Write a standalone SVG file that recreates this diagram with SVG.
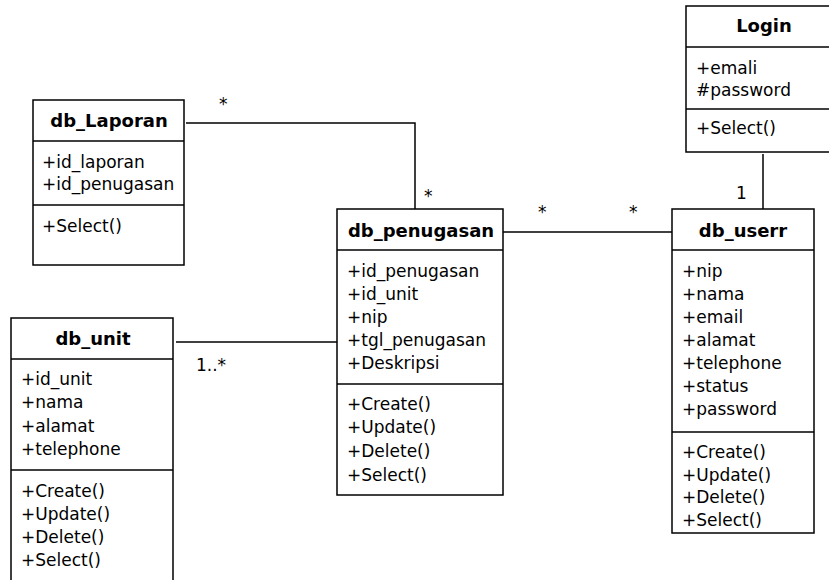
<svg xmlns="http://www.w3.org/2000/svg" width="829" height="580" viewBox="0 0 829 580">
<style>
.box{fill:#fff;stroke:#000;stroke-width:1.5}
.div{stroke:#000;stroke-width:1.5}
.t{font-family:"DejaVu Sans",Verdana,sans-serif;font-size:18px;font-weight:bold;text-anchor:middle;fill:#000}
.a{font-family:"DejaVu Sans",Verdana,sans-serif;font-size:17px;fill:#000}
.m{font-family:"DejaVu Sans",Verdana,sans-serif;font-size:17px;fill:#000}
.c{fill:none;stroke:#000;stroke-width:1.5}
</style>
<rect width="829" height="580" fill="#fff"/>
<g id="connectors">
<polyline class="c" points="186,123 415,123 415,209"/>
<line class="c" x1="503" y1="232" x2="672" y2="232"/>
<line class="c" x1="763" y1="154" x2="763" y2="209"/>
<line class="c" x1="176" y1="342" x2="337" y2="342"/>
<text class="m" x="219" y="110">*</text>
<text class="m" x="424" y="202">*</text>
<text class="m" x="538" y="218">*</text>
<text class="m" x="629" y="218">*</text>
<text class="m" x="736" y="199">1</text>
<text class="m" x="196" y="371">1..*</text>
</g>
<g id="db_Laporan">
<rect class="box" x="33" y="100" width="151" height="165"/>
<line class="div" x1="33" y1="141" x2="184" y2="141"/>
<line class="div" x1="33" y1="205" x2="184" y2="205"/>
<text class="t" x="109" y="127">db_Laporan</text>
<text class="a" x="42" y="168">+id_laporan</text>
<text class="a" x="42" y="190">+id_penugasan</text>
<text class="a" x="42" y="232">+Select()</text>
</g>
<g id="db_penugasan">
<rect class="box" x="337" y="209" width="166" height="286"/>
<line class="div" x1="337" y1="250" x2="503" y2="250"/>
<line class="div" x1="337" y1="384" x2="503" y2="384"/>
<text class="t" x="421" y="237">db_penugasan</text>
<text class="a" x="347" y="277">+id_penugasan</text>
<text class="a" x="347" y="300">+id_unit</text>
<text class="a" x="347" y="323">+nip</text>
<text class="a" x="347" y="346">+tgl_penugasan</text>
<text class="a" x="347" y="369">+Deskripsi</text>
<text class="a" x="347" y="410">+Create()</text>
<text class="a" x="347" y="433">+Update()</text>
<text class="a" x="347" y="457">+Delete()</text>
<text class="a" x="347" y="481">+Select()</text>
</g>
<g id="Login">
<rect class="box" x="686" y="6" width="160" height="146"/>
<line class="div" x1="686" y1="47" x2="829" y2="47"/>
<line class="div" x1="686" y1="109" x2="829" y2="109"/>
<text class="t" x="764" y="32">Login</text>
<text class="a" x="696" y="74">+emali</text>
<text class="a" x="696" y="96">#password</text>
<text class="a" x="696" y="134">+Select()</text>
</g>
<g id="db_userr">
<rect class="box" x="672" y="209" width="142" height="324"/>
<line class="div" x1="672" y1="250" x2="814" y2="250"/>
<line class="div" x1="672" y1="432" x2="814" y2="432"/>
<text class="t" x="743" y="237">db_userr</text>
<text class="a" x="682" y="277">+nip</text>
<text class="a" x="682" y="300">+nama</text>
<text class="a" x="682" y="323">+email</text>
<text class="a" x="682" y="346">+alamat</text>
<text class="a" x="682" y="369">+telephone</text>
<text class="a" x="682" y="392">+status</text>
<text class="a" x="682" y="415">+password</text>
<text class="a" x="682" y="458">+Create()</text>
<text class="a" x="682" y="481">+Update()</text>
<text class="a" x="682" y="503">+Delete()</text>
<text class="a" x="682" y="526">+Select()</text>
</g>
<g id="db_unit">
<rect class="box" x="11" y="318" width="162" height="290"/>
<line class="div" x1="11" y1="359" x2="173" y2="359"/>
<line class="div" x1="11" y1="470" x2="173" y2="470"/>
<text class="t" x="93" y="345">db_unit</text>
<text class="a" x="21" y="385">+id_unit</text>
<text class="a" x="21" y="408">+nama</text>
<text class="a" x="21" y="432">+alamat</text>
<text class="a" x="21" y="455">+telephone</text>
<text class="a" x="21" y="497">+Create()</text>
<text class="a" x="21" y="520">+Update()</text>
<text class="a" x="21" y="543">+Delete()</text>
<text class="a" x="21" y="566">+Select()</text>
</g>
</svg>
